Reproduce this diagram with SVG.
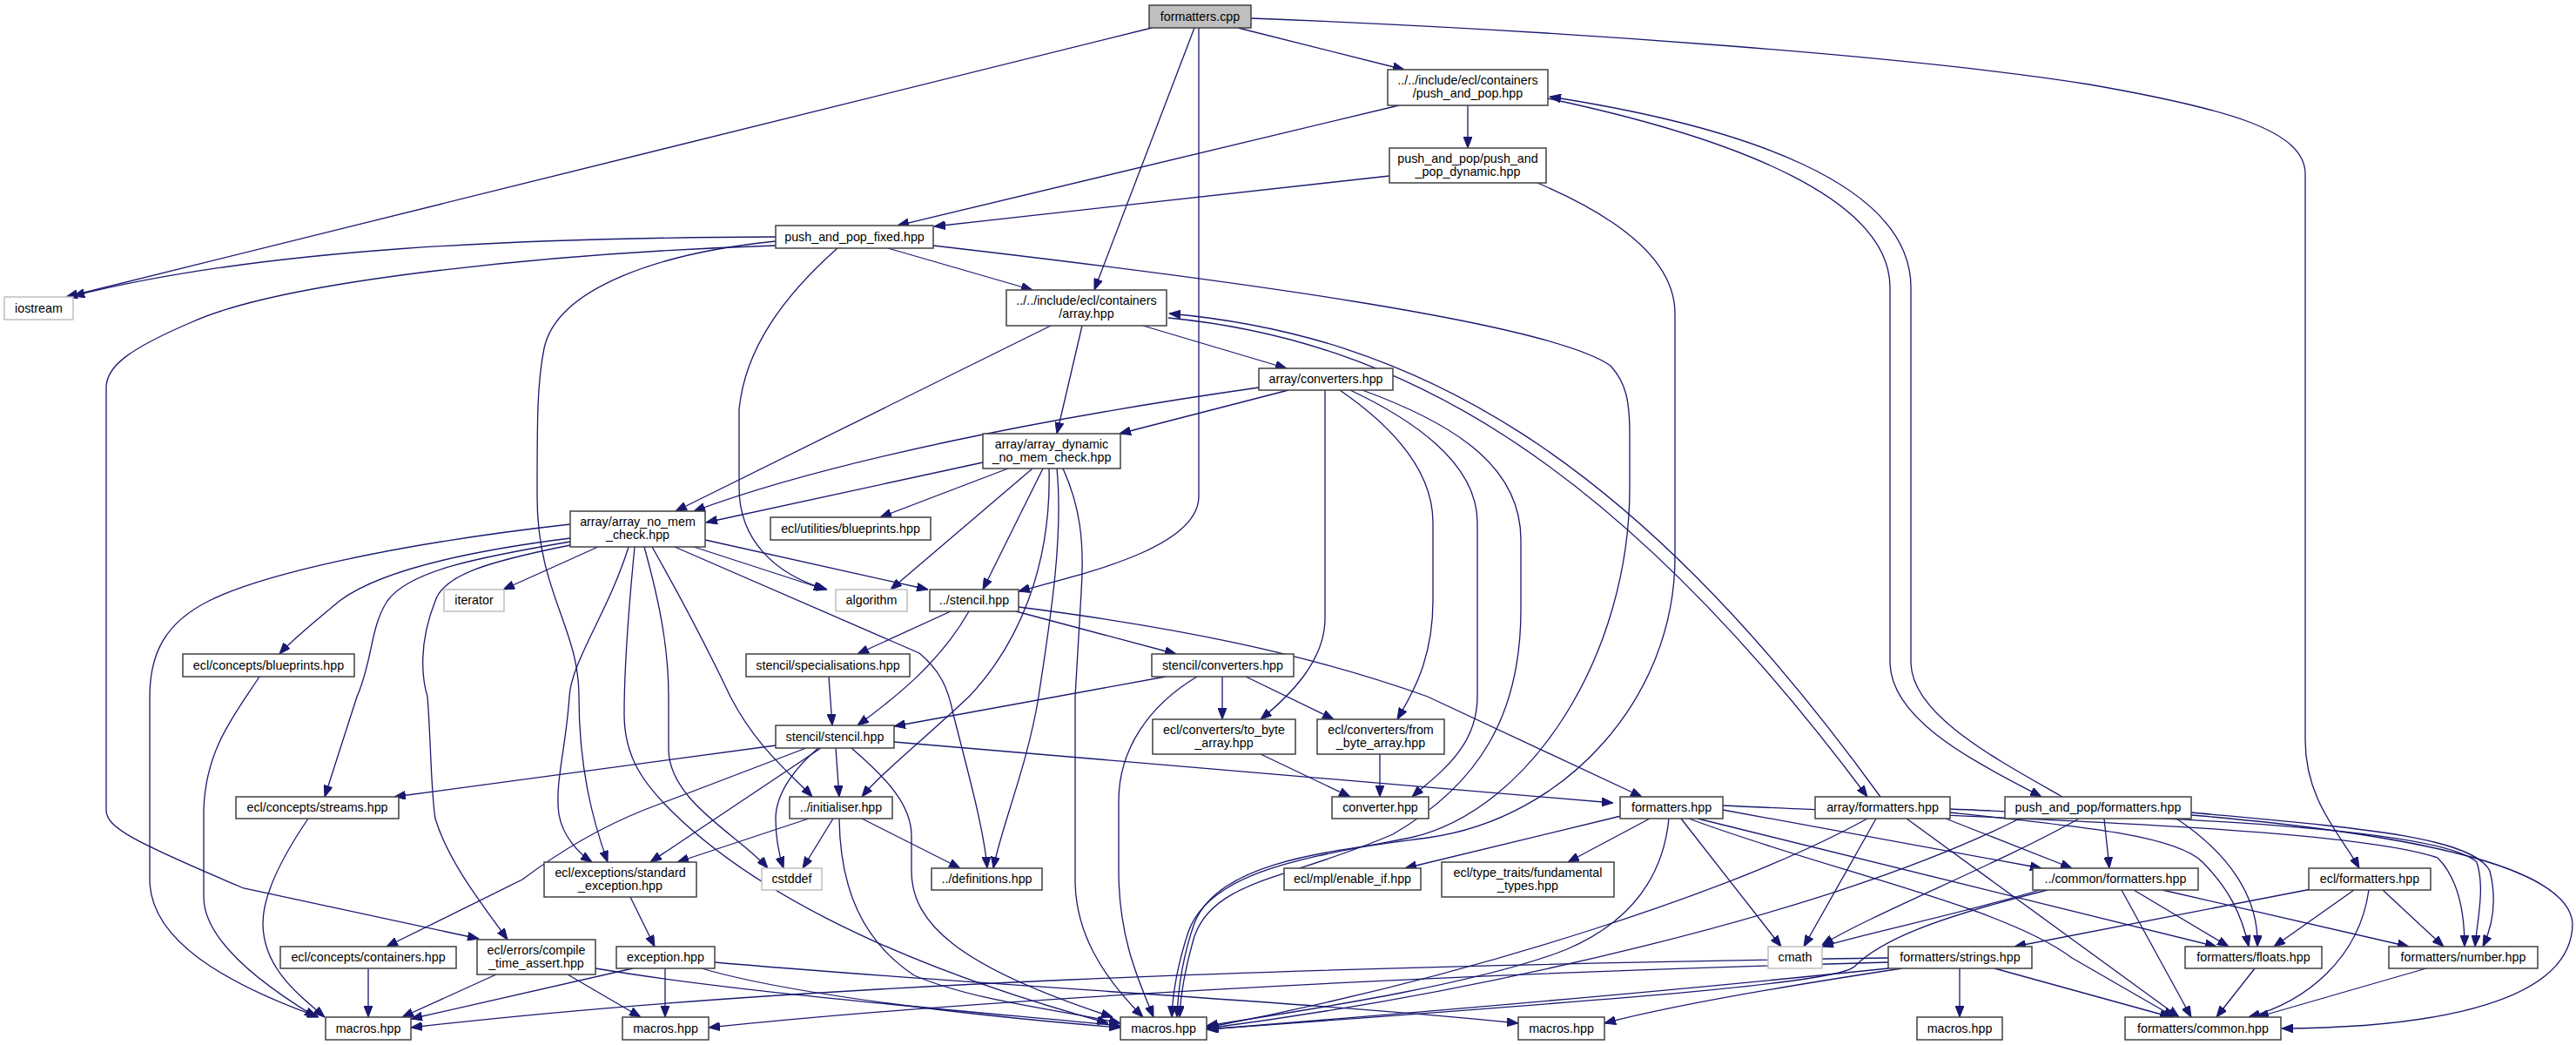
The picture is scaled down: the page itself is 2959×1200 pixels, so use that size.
<svg xmlns="http://www.w3.org/2000/svg" width="2959" height="1200" viewBox="0 0 2959 1200">
<style>
.node rect{fill:#ffffff;stroke:#404040;stroke-width:1.5}
.node.root rect{fill:#bfbfbf}
.node.sys rect{stroke:#bfbfbf}
.node text{font-family:"Liberation Sans",Arial,sans-serif;font-size:14.3px;fill:#000;text-anchor:middle}
#edges path{fill:none;stroke:#191970;stroke-width:1.3;marker-end:url(#arr)}
</style>
<defs>
<marker id="arr" markerWidth="13" markerHeight="10" refX="13" refY="5" orient="auto" markerUnits="userSpaceOnUse">
<path d="M0,0 L13,5 L0,10 z" fill="#191970" stroke="#191970" stroke-width="1"/>
</marker>
</defs>
<rect x="0" y="0" width="2959" height="1200" fill="#ffffff"/>
<g id="edges">
<path d="M1323,32 L76,341"/>
<path d="M1372,32 L1257,333"/>
<path d="M1377,32 L1377,570 C1377,630 1240,660 1170,679"/>
<path d="M1422,32 L1613,80"/>
<path d="M1437,21 C1800,35 2200,65 2400,97 C2560,125 2648,150 2648,200 L2648,850 C2648,920 2690,960 2710,997"/>
<path d="M1686,121 L1686,170"/>
<path d="M1607,121 L1031,259"/>
<path d="M1596,202 L1073,260"/>
<path d="M1778,113 C2000,160 2171,230 2171,330 L2171,760 C2171,830 2280,880 2345,915"/>
<path d="M2369,915 C2290,870 2195,820 2195,760 L2195,330 C2195,210 2000,145 1780,111"/>
<path d="M1766,210 C1860,250 1924,300 1924,360 L1924,640 C1924,800 1800,940 1640,962 C1520,978 1400,990 1372,1060 C1358,1100 1353,1140 1352,1168"/>
<path d="M891,272 C600,273 300,285 84,340"/>
<path d="M891,282 C650,290 330,320 220,370 C150,400 122,420 122,445 L122,930 C122,950 150,965 280,1020 L550,1078"/>
<path d="M1020,285 L1186,333"/>
<path d="M962,285 C900,340 856,400 849,470 L849,560 C849,620 890,660 950,677"/>
<path d="M891,277 C760,290 640,330 625,400 C617,440 617,480 617,570 C617,680 665,720 665,800 C665,880 680,940 698,990"/>
<path d="M1072,282 C1400,320 1780,370 1850,420 C1868,440 1872,460 1872,500 L1872,560 C1872,750 1760,930 1620,962 C1500,985 1390,1000 1365,1070 C1352,1110 1347,1140 1346,1168"/>
<path d="M1207,374 L776,587"/>
<path d="M1243,374 L1214,498"/>
<path d="M1313,374 L1478,423"/>
<path d="M1342,365 C1600,390 1850,520 2145,915"/>
<path d="M2160,915 C1870,515 1620,385 1343,360"/>
<path d="M1446,445 C1200,480 950,530 797,587"/>
<path d="M1480,448 L1286,498"/>
<path d="M1522,448 L1522,710 C1522,760 1480,800 1448,826"/>
<path d="M1539,448 C1600,490 1646,540 1646,600 L1646,690 C1646,760 1620,800 1605,826"/>
<path d="M1551,448 C1640,490 1697,540 1697,600 L1697,800 C1697,860 1650,890 1622,915"/>
<path d="M1565,448 C1680,490 1747,540 1747,620 L1747,700 C1747,820 1700,900 1600,958 C1480,1010 1395,1010 1372,1075 C1362,1110 1356,1140 1355,1168"/>
<path d="M1129,531 L811,600"/>
<path d="M1158,538 L1011,594"/>
<path d="M1186,538 L1023,677"/>
<path d="M1198,538 L1129,677"/>
<path d="M1205,538 C1208,650 1170,740 1113,800 C1060,850 1010,890 990,915"/>
<path d="M1214,538 C1222,620 1205,720 1193,800 C1180,880 1150,950 1141,997"/>
<path d="M1221,538 C1240,580 1246,620 1242,680 L1235,800 L1235,1010 C1235,1070 1265,1120 1313,1168"/>
<path d="M687,628 L578,677"/>
<path d="M797,628 L948,677"/>
<path d="M810,620 L1066,677"/>
<path d="M655,618 C520,635 430,660 390,690 C360,715 335,735 321,751"/>
<path d="M655,622 C550,640 470,655 445,690 C425,720 428,760 410,800 L373,915"/>
<path d="M655,626 C560,645 510,660 500,690 C480,740 485,780 491,800 C495,850 495,910 500,940 C515,990 555,1040 583,1079"/>
<path d="M722,628 C700,700 656,760 654,800 C650,860 637,900 642,935 C646,960 665,980 680,990"/>
<path d="M740,628 C760,700 768,750 768,800 L768,860 C768,920 850,960 882,997"/>
<path d="M749,628 C790,700 820,760 839,800 C870,860 910,890 933,915"/>
<path d="M775,628 L1056,750 C1080,770 1089,790 1095,820 C1110,880 1130,950 1134,997"/>
<path d="M655,602 C450,625 300,660 240,690 C190,715 172,750 172,800 L172,1010 C172,1080 260,1130 366,1168"/>
<path d="M729,628 C722,700 717,760 717,820 C717,870 740,900 770,930 C850,1010 1000,1100 1273,1175"/>
<path d="M1092,702 L985,751"/>
<path d="M1113,702 C1080,760 1030,800 985,833"/>
<path d="M1167,702 L1351,751"/>
<path d="M1170,697 C1350,720 1500,750 1640,800 L1886,915"/>
<path d="M952,777 L956,833"/>
<path d="M1339,777 L1027,834"/>
<path d="M1404,777 L1404,826"/>
<path d="M1431,777 L1532,826"/>
<path d="M1375,777 C1320,810 1285,860 1285,920 L1285,1000 C1285,1080 1310,1130 1325,1168"/>
<path d="M891,856 L453,915"/>
<path d="M926,859 L740,930 C690,950 640,980 600,1010 L444,1087"/>
<path d="M943,859 L747,990"/>
<path d="M940,859 C915,880 891,910 891,940 C891,965 896,985 900,997"/>
<path d="M960,859 L964,915"/>
<path d="M978,859 C1020,895 1047,925 1047,960 L1047,1000 C1047,1060 1100,1110 1278,1168"/>
<path d="M1027,852 L1853,922"/>
<path d="M1448,866 L1551,915"/>
<path d="M1585,866 L1585,915"/>
<path d="M929,940 L778,990"/>
<path d="M957,940 L922,997"/>
<path d="M990,940 L1103,997"/>
<path d="M964,940 C965,1020 990,1080 1050,1120 C1120,1150 1220,1160 1287,1175"/>
<path d="M724,1030 L752,1087"/>
<path d="M727,1112 L472,1170"/>
<path d="M764,1112 L764,1168"/>
<path d="M806,1112 C900,1140 1100,1165 1287,1180"/>
<path d="M821,1105 C1100,1130 1500,1150 1744,1175"/>
<path d="M570,1119 L462,1168"/>
<path d="M652,1119 L736,1168"/>
<path d="M684,1112 C850,1140 1100,1160 1287,1178"/>
<path d="M298,777 C270,820 236,860 234,930 L234,1030 C234,1080 300,1130 363,1168"/>
<path d="M354,940 C320,990 302,1030 302,1060 C302,1110 340,1140 373,1168"/>
<path d="M423,1112 L423,1168"/>
<path d="M1862,937 L1614,997"/>
<path d="M1895,940 L1801,990"/>
<path d="M1931,940 L2046,1087"/>
<path d="M1917,940 C1910,1010 1870,1060 1800,1090 C1700,1130 1500,1160 1386,1178"/>
<path d="M1979,930 L2345,997"/>
<path d="M1950,940 L2546,1087"/>
<path d="M1979,925 C2300,940 2700,950 2800,985 C2825,1010 2831,1050 2831,1087"/>
<path d="M1940,940 C2100,1000 2300,1040 2380,1100 L2498,1168"/>
<path d="M2155,940 L2072,1087"/>
<path d="M2145,940 C2000,1020 1700,1120 1386,1180"/>
<path d="M2235,940 L2380,997"/>
<path d="M2240,933 C2400,950 2500,960 2530,990 C2560,1020 2575,1050 2583,1087"/>
<path d="M2240,929 C2500,940 2800,950 2845,990 C2855,1020 2845,1060 2843,1087"/>
<path d="M2190,940 L2503,1168"/>
<path d="M2417,940 L2423,997"/>
<path d="M2388,940 C2300,990 2150,1050 2093,1085"/>
<path d="M2320,940 C2100,1050 1700,1140 1386,1181"/>
<path d="M2500,940 C2560,980 2595,1030 2593,1087"/>
<path d="M2517,933 C2700,950 2840,960 2860,1000 C2870,1040 2860,1070 2852,1087"/>
<path d="M2517,936 C2800,960 2950,1000 2955,1060 C2955,1150 2800,1180 2621,1181"/>
<path d="M2343,1022 C2250,1050 2150,1070 2093,1087"/>
<path d="M2352,1022 C2220,1055 2160,1080 2130,1110 C2110,1128 1900,1145 1386,1182"/>
<path d="M2451,1022 L2560,1087"/>
<path d="M2484,1022 L2767,1087"/>
<path d="M2437,1022 L2517,1168"/>
<path d="M2660,1020 L2314,1087"/>
<path d="M2704,1022 L2612,1087"/>
<path d="M2737,1022 L2807,1087"/>
<path d="M2721,1022 C2710,1100 2650,1150 2583,1168"/>
<path d="M2251,1112 L2251,1168"/>
<path d="M2291,1112 L2494,1168"/>
<path d="M2185,1112 C2000,1140 1900,1160 1843,1175"/>
<path d="M2169,1112 C1900,1140 1600,1165 1387,1182"/>
<path d="M2169,1100 C1500,1110 900,1130 472,1180"/>
<path d="M2169,1105 C1600,1120 1100,1150 814,1180"/>
<path d="M2590,1112 L2546,1168"/>
<path d="M2787,1112 L2593,1168"/>
</g>
<g id="n0" class="node root"><rect x="1320" y="6" width="117" height="26"/><text x="1378.5" y="24">formatters.cpp</text></g>
<g id="n1" class="node"><rect x="1594" y="80" width="184" height="41"/><text x="1686" y="97">../../include/ecl/containers</text><text x="1686" y="112">/push_and_pop.hpp</text></g>
<g id="n2" class="node"><rect x="1596" y="170" width="180" height="40"/><text x="1686" y="187">push_and_pop/push_and</text><text x="1686" y="202">_pop_dynamic.hpp</text></g>
<g id="n3" class="node"><rect x="891" y="259" width="181" height="26"/><text x="981.5" y="277">push_and_pop_fixed.hpp</text></g>
<g id="n4" class="node sys"><rect x="5" y="341" width="79" height="26"/><text x="44.5" y="359">iostream</text></g>
<g id="n5" class="node"><rect x="1156" y="333" width="184" height="41"/><text x="1248" y="350">../../include/ecl/containers</text><text x="1248" y="365">/array.hpp</text></g>
<g id="n6" class="node"><rect x="1446" y="423" width="154" height="25"/><text x="1523" y="440">array/converters.hpp</text></g>
<g id="n7" class="node"><rect x="1129" y="498" width="158" height="40"/><text x="1208" y="515">array/array_dynamic</text><text x="1208" y="530">_no_mem_check.hpp</text></g>
<g id="n8" class="node"><rect x="655" y="587" width="155" height="41"/><text x="732.5" y="604">array/array_no_mem</text><text x="732.5" y="619">_check.hpp</text></g>
<g id="n9" class="node"><rect x="885" y="594" width="184" height="26"/><text x="977" y="612">ecl/utilities/blueprints.hpp</text></g>
<g id="n10" class="node sys"><rect x="510" y="677" width="69" height="25"/><text x="544.5" y="694">iterator</text></g>
<g id="n11" class="node sys"><rect x="960" y="677" width="82" height="25"/><text x="1001" y="694">algorithm</text></g>
<g id="n12" class="node"><rect x="1068" y="677" width="102" height="25"/><text x="1119" y="694">../stencil.hpp</text></g>
<g id="n13" class="node"><rect x="210" y="751" width="197" height="26"/><text x="308.5" y="769">ecl/concepts/blueprints.hpp</text></g>
<g id="n14" class="node"><rect x="857" y="751" width="188" height="26"/><text x="951" y="769">stencil/specialisations.hpp</text></g>
<g id="n15" class="node"><rect x="1323" y="751" width="163" height="26"/><text x="1404.5" y="769">stencil/converters.hpp</text></g>
<g id="n16" class="node"><rect x="891" y="833" width="136" height="26"/><text x="959" y="851">stencil/stencil.hpp</text></g>
<g id="n17" class="node"><rect x="1324" y="826" width="164" height="40"/><text x="1406" y="843">ecl/converters/to_byte</text><text x="1406" y="858">_array.hpp</text></g>
<g id="n18" class="node"><rect x="1513" y="826" width="146" height="40"/><text x="1586" y="843">ecl/converters/from</text><text x="1586" y="858">_byte_array.hpp</text></g>
<g id="n19" class="node"><rect x="271" y="915" width="187" height="25"/><text x="364.5" y="932">ecl/concepts/streams.hpp</text></g>
<g id="n20" class="node"><rect x="907" y="915" width="118" height="25"/><text x="966" y="932">../initialiser.hpp</text></g>
<g id="n21" class="node"><rect x="1530" y="915" width="111" height="25"/><text x="1585.5" y="932">converter.hpp</text></g>
<g id="n22" class="node"><rect x="1861" y="915" width="118" height="25"/><text x="1920" y="932">formatters.hpp</text></g>
<g id="n23" class="node"><rect x="2085" y="915" width="155" height="25"/><text x="2162.5" y="932">array/formatters.hpp</text></g>
<g id="n24" class="node"><rect x="2303" y="915" width="214" height="25"/><text x="2410" y="932">push_and_pop/formatters.hpp</text></g>
<g id="n25" class="node"><rect x="625" y="990" width="175" height="40"/><text x="712.5" y="1007">ecl/exceptions/standard</text><text x="712.5" y="1022">_exception.hpp</text></g>
<g id="n26" class="node sys"><rect x="875" y="997" width="69" height="25"/><text x="909.5" y="1014">cstddef</text></g>
<g id="n27" class="node"><rect x="1070" y="997" width="127" height="25"/><text x="1133.5" y="1014">../definitions.hpp</text></g>
<g id="n28" class="node"><rect x="1475" y="997" width="157" height="25"/><text x="1553.5" y="1014">ecl/mpl/enable_if.hpp</text></g>
<g id="n29" class="node"><rect x="1656" y="990" width="198" height="40"/><text x="1755" y="1007">ecl/type_traits/fundamental</text><text x="1755" y="1022">_types.hpp</text></g>
<g id="n30" class="node"><rect x="2335" y="997" width="190" height="25"/><text x="2430" y="1014">../common/formatters.hpp</text></g>
<g id="n31" class="node"><rect x="2652" y="997" width="140" height="25"/><text x="2722" y="1014">ecl/formatters.hpp</text></g>
<g id="n32" class="node"><rect x="322" y="1087" width="202" height="25"/><text x="423" y="1104">ecl/concepts/containers.hpp</text></g>
<g id="n33" class="node"><rect x="548" y="1079" width="136" height="40"/><text x="616" y="1096">ecl/errors/compile</text><text x="616" y="1111">_time_assert.hpp</text></g>
<g id="n34" class="node"><rect x="708" y="1087" width="113" height="25"/><text x="764.5" y="1104">exception.hpp</text></g>
<g id="n35" class="node sys"><rect x="2031" y="1087" width="62" height="25"/><text x="2062" y="1104">cmath</text></g>
<g id="n36" class="node"><rect x="2169" y="1087" width="165" height="25"/><text x="2251.5" y="1104">formatters/strings.hpp</text></g>
<g id="n37" class="node"><rect x="2510" y="1087" width="157" height="25"/><text x="2588.5" y="1104">formatters/floats.hpp</text></g>
<g id="n38" class="node"><rect x="2744" y="1087" width="171" height="25"/><text x="2829.5" y="1104">formatters/number.hpp</text></g>
<g id="n39" class="node"><rect x="374" y="1168" width="98" height="26"/><text x="423" y="1186">macros.hpp</text></g>
<g id="n40" class="node"><rect x="715" y="1168" width="99" height="26"/><text x="764.5" y="1186">macros.hpp</text></g>
<g id="n41" class="node"><rect x="1287" y="1168" width="99" height="26"/><text x="1336.5" y="1186">macros.hpp</text></g>
<g id="n42" class="node"><rect x="1744" y="1168" width="99" height="26"/><text x="1793.5" y="1186">macros.hpp</text></g>
<g id="n43" class="node"><rect x="2202" y="1168" width="98" height="26"/><text x="2251" y="1186">macros.hpp</text></g>
<g id="n44" class="node"><rect x="2441" y="1168" width="179" height="26"/><text x="2530.5" y="1186">formatters/common.hpp</text></g>
</svg>
